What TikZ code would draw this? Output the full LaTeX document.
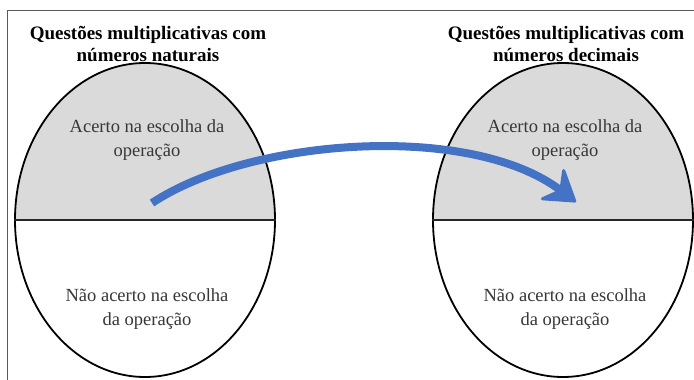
\documentclass[tikz,border=0pt]{standalone}
\usepackage{fontspec}
\setmainfont{Liberation Serif}
\usetikzlibrary{shapes.geometric,positioning,arrows.meta}
\definecolor{arrowblue}{RGB}{68,114,196}
\definecolor{halfgray}{RGB}{218,218,218}
\definecolor{txtgray}{RGB}{55,55,55}

\begin{document}
\begin{tikzpicture}[x=1pt,y=-1pt,
    oval/.style={ellipse,draw,line width=1.8pt,minimum width=260pt,minimum height=314pt,inner sep=0pt},
    title/.style={align=center,font=\fontsize{19}{22}\selectfont\bfseries},
    inside/.style={align=center,text=txtgray,font=\fontsize{18.5}{24}\selectfont}]
        \clip (0,0) rectangle (694,380);
        \fill[white] (0,0) rectangle (694,380);
        \draw[line width=1pt,black!65] (7,400) -- (7,10) -- (710,10);
        \foreach \cx/\nm/\kind in {145/nat/naturais,563/dec/decimais} {
          \fill[halfgray] (\cx-130,220) arc[start angle=180,end angle=0,x radius=130,y radius=-157] -- cycle;
          \node[oval] (\nm) at (\cx,220) {};
          \draw[line width=1.3pt,black!85] (\nm.west) -- (\nm.east);
          \node[title] (\nm t) at (\cx+3,44) {Questões multiplicativas com\\números \kind};
          \node[inside] (\nm a) at (\cx+2,140) {Acerto na escolha da\\operação};
          \node[inside] (\nm b) at (\cx+2,309) {Não acerto na escolha\\da operação};
        }
        \coordinate (from) at (152,203);
        \coordinate (to) at (576,202);
        \draw[arrowblue,line width=8pt,-{Stealth[length=34pt,width=44pt,inset=12pt,line width=3pt,round]}]
          (from) .. controls (250,138) and (470,122) .. (to);
      \end{tikzpicture}
\end{document}
